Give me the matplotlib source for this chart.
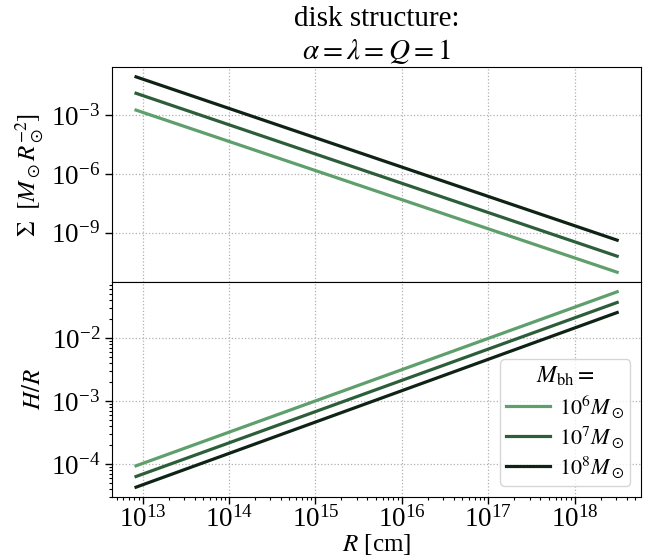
import numpy as np
import matplotlib
matplotlib.use("Agg")
import matplotlib.pyplot as plt

plt.rcParams['font.family'] = 'serif'
plt.rcParams['font.serif'] = ['Liberation Serif', 'DejaVu Serif']
plt.rcParams['mathtext.fontset'] = 'stix'
plt.rcParams['font.size'] = 18

# radius endpoints [cm] (power laws -> straight lines in log-log)
R = np.array([8.4e12, 3.1e18])

# black hole masses and read-off values at the two endpoints
masas = ['$10^6 M_\\odot$', '$10^7 M_\\odot$', '$10^8 M_\\odot$']
sigma_1e6 = np.array([10**-2.74, 10**-11.03])
sigma_1e7 = np.array([10**-1.88, 10**-10.21])
sigma_1e8 = np.array([10**-1.04, 10**-9.39])
hr_1e6 = np.array([10**-4.03, 10**-1.26])
hr_1e7 = np.array([10**-4.20, 10**-1.43])
hr_1e8 = np.array([10**-4.37, 10**-1.59])

colores = ['#5e9f6c', '#2d5e3a', '#0f2315']

fig, (ax1, ax2) = plt.subplots(2, 1, sharex=True, figsize=(6.51, 5.59), dpi=100)
fig.subplots_adjust(left=0.172, right=0.985, top=0.880, bottom=0.111, hspace=0)

for sig, hr, c, lab in zip([sigma_1e6, sigma_1e7, sigma_1e8],
                           [hr_1e6, hr_1e7, hr_1e8], colores, masas):
    ax1.plot(R, sig, color=c, lw=2.3)
    ax2.plot(R, hr, color=c, lw=2.3, label=lab)

for ax in (ax1, ax2):
    ax.set_xscale('log')
    ax.set_yscale('log')
    ax.grid(True, which='major', ls=':', color='#b0b0b0', lw=0.9)
    ax.tick_params(which='major', length=5, width=1, labelsize=19.5)
    ax.tick_params(which='minor', length=2.5, width=0.8)
ax2.tick_params(axis='x', which='major', pad=1.5)

ax1.set_yticks([1e-3, 1e-6, 1e-9])
ax1.set_title('disk structure:\n$\\alpha = \\lambda = Q = 1$', fontsize=21)
ax1.set_ylabel('$\\Sigma\\ \\ [M_\\odot R_\\odot^{-2}]$')
ax2.set_ylabel('$H/R$')
ax2.set_xlabel('$R$ [cm]', labelpad=0)
ax2.set_xticks([1e13, 1e14, 1e15, 1e16, 1e17, 1e18])

ax2.legend(title='$M_{\\rm bh} =$', loc='lower right', fontsize=16, title_fontsize=17,
           borderpad=0.25, handletextpad=0.4, labelspacing=0.2)

plt.savefig('out.png', dpi=100)
